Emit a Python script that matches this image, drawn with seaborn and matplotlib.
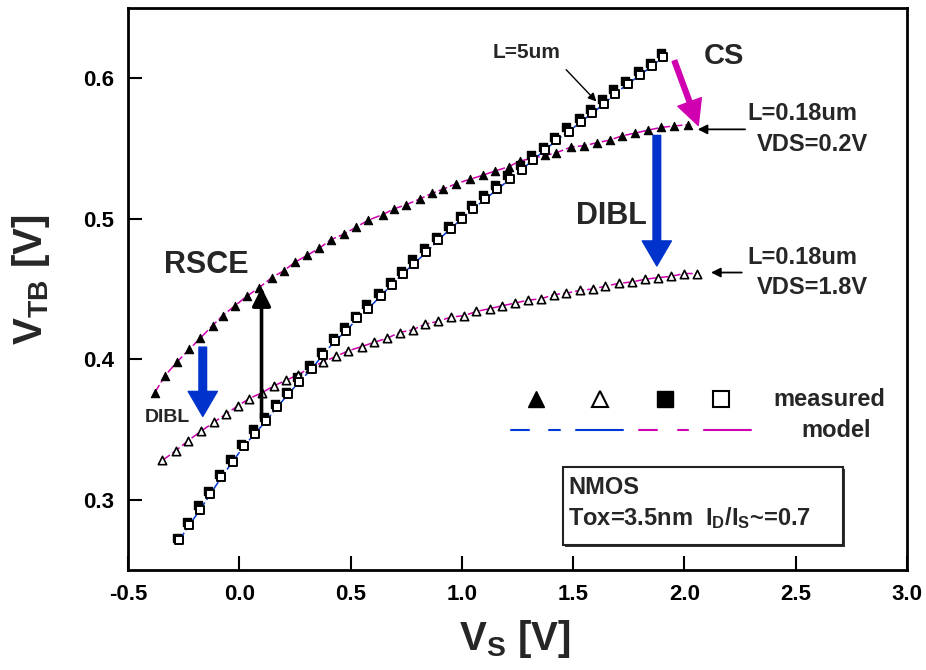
import matplotlib
matplotlib.use("Agg")
import matplotlib.pyplot as plt
import seaborn as sns
from matplotlib.patches import Rectangle

# -------------------------
# Data
# -------------------------
# L=5um, VDS=1.8V (open squares)
vs_sq_open = [-0.27, -0.225, -0.175, -0.13, -0.08, -0.03, 0.02, 0.07, 0.12, 0.17,
              0.22, 0.27, 0.325, 0.375, 0.43, 0.48, 0.53, 0.58, 0.635, 0.685,
              0.735, 0.785, 0.84, 0.895, 0.95, 1.0, 1.05, 1.105, 1.16, 1.215,
              1.27, 1.32, 1.375, 1.425, 1.48, 1.535, 1.585, 1.64, 1.69, 1.745,
              1.80, 1.855, 1.905]
vtb_sq_open = [0.271, 0.282, 0.293, 0.304, 0.316, 0.327, 0.338, 0.347, 0.356, 0.366,
               0.375, 0.384, 0.393, 0.403, 0.413, 0.420, 0.429, 0.436, 0.445, 0.453,
               0.461, 0.468, 0.476, 0.485, 0.493, 0.500, 0.507, 0.514, 0.521, 0.528,
               0.535, 0.542, 0.549, 0.556, 0.562, 0.569, 0.575, 0.582, 0.589, 0.596,
               0.602, 0.609, 0.615]

# L=5um, VDS=0.2V (filled squares)
vs_sq_fill = [-0.28, -0.235, -0.185, -0.14, -0.09, -0.04, 0.01, 0.06, 0.11, 0.16,
              0.21, 0.26, 0.315, 0.365, 0.42, 0.47, 0.52, 0.57, 0.625, 0.675,
              0.725, 0.775, 0.83, 0.885, 0.94, 0.99, 1.04, 1.095, 1.15, 1.205,
              1.26, 1.31, 1.365, 1.415, 1.47, 1.525, 1.575, 1.63, 1.68, 1.735,
              1.79, 1.845, 1.895]
vtb_sq_fill = [0.273, 0.284, 0.296, 0.306, 0.318, 0.329, 0.340, 0.350, 0.359, 0.368,
               0.377, 0.387, 0.396, 0.405, 0.415, 0.423, 0.431, 0.439, 0.447, 0.455,
               0.463, 0.471, 0.479, 0.487, 0.495, 0.502, 0.510, 0.517, 0.524, 0.531,
               0.538, 0.545, 0.551, 0.558, 0.565, 0.572, 0.578, 0.585, 0.592, 0.598,
               0.605, 0.611, 0.618]

# L=0.18um, VDS=1.8V (open triangles)
vs_tri_open = [-0.345, -0.285, -0.23, -0.17, -0.115, -0.06, -0.005, 0.045, 0.1, 0.155,
               0.21, 0.265, 0.32, 0.375, 0.435, 0.49, 0.55, 0.605, 0.665, 0.72,
               0.78, 0.835, 0.895, 0.95, 1.01, 1.065, 1.125, 1.18, 1.24, 1.295,
               1.355, 1.415, 1.47, 1.53, 1.59, 1.645, 1.705, 1.765, 1.825, 1.88,
               1.94, 2.0, 2.055]
vtb_tri_open = [0.328, 0.335, 0.342, 0.349, 0.355, 0.361, 0.367, 0.372, 0.376, 0.381,
                0.385, 0.389, 0.394, 0.398, 0.402, 0.406, 0.409, 0.412, 0.415, 0.419,
                0.421, 0.425, 0.427, 0.430, 0.431, 0.434, 0.436, 0.438, 0.440, 0.442,
                0.443, 0.446, 0.447, 0.449, 0.450, 0.452, 0.454, 0.455, 0.457, 0.458,
                0.459, 0.461, 0.461]

# L=0.18um, VDS=0.2V (filled triangles)
vs_tri_fill = [-0.38, -0.335, -0.28, -0.225, -0.175, -0.12, -0.075, -0.02, 0.035, 0.09,
               0.145, 0.2, 0.25, 0.305, 0.36, 0.41, 0.47, 0.525, 0.58, 0.645,
               0.695, 0.75, 0.81, 0.865, 0.915, 0.975, 1.035, 1.095, 1.15, 1.21,
               1.26, 1.315, 1.375, 1.425, 1.49, 1.55, 1.605, 1.665, 1.72, 1.78,
               1.835, 1.895, 1.955, 2.015]
vtb_tri_fill = [0.376, 0.388, 0.398, 0.407, 0.415, 0.424, 0.431, 0.438, 0.445, 0.451,
                0.458, 0.463, 0.469, 0.474, 0.479, 0.485, 0.489, 0.494, 0.499, 0.503,
                0.507, 0.510, 0.514, 0.518, 0.521, 0.525, 0.528, 0.531, 0.534, 0.537,
                0.541, 0.543, 0.545, 0.547, 0.551, 0.552, 0.554, 0.556, 0.559, 0.561,
                0.563, 0.565, 0.566, 0.567]

x_ticks = [-0.5, 0.0, 0.5, 1.0, 1.5, 2.0, 2.5, 3.0]
y_ticks = [0.3, 0.4, 0.5, 0.6]

BLUE = "#0038d8"
MAGENTA = "#d000b0"
ARROW_BLUE = "#0033cc"

# -------------------------
# Style
# -------------------------
sns.set_style("ticks")
plt.rcParams["font.family"] = ["Liberation Sans", "DejaVu Sans"]
plt.rcParams["font.weight"] = "bold"
plt.rcParams["mathtext.fontset"] = "custom"
plt.rcParams["mathtext.rm"] = "Liberation Sans:bold"
plt.rcParams["mathtext.it"] = "Liberation Sans:bold"
plt.rcParams["mathtext.bf"] = "Liberation Sans:bold"

fig = plt.figure(figsize=(9.26, 6.70), dpi=100)
ax = fig.add_axes([0.1382, 0.1493, 0.8413, 0.8388])

# model lines
dash = (0, (6, 2))
sns.lineplot(x=vs_sq_open, y=vtb_sq_open, ax=ax, color=BLUE, lw=1.1,
             linestyle=dash, sort=False, zorder=2)
sns.lineplot(x=vs_tri_fill, y=vtb_tri_fill, ax=ax, color=MAGENTA, lw=1.1,
             linestyle=dash, sort=False, zorder=2)
sns.lineplot(x=vs_tri_open, y=vtb_tri_open, ax=ax, color=MAGENTA, lw=1.1,
             linestyle=dash, sort=False, zorder=2)

# measured points
sns.scatterplot(x=vs_sq_fill, y=vtb_sq_fill, ax=ax, marker="s", s=38,
                color="black", edgecolor="black", linewidth=1.0, zorder=3)
sns.scatterplot(x=vs_sq_open, y=vtb_sq_open, ax=ax, marker="s", s=38,
                color="white", edgecolor="black", linewidth=1.4, zorder=4)
sns.scatterplot(x=vs_tri_fill, y=vtb_tri_fill, ax=ax, marker="^", s=36,
                color="black", edgecolor="black", linewidth=0.8, zorder=3)
sns.scatterplot(x=vs_tri_open, y=vtb_tri_open, ax=ax, marker="^", s=36,
                color="white", edgecolor="black", linewidth=1.2, zorder=3)

# -------------------------
# Axes
# -------------------------
ax.set_xlim(-0.5, 3.0)
ax.set_ylim(0.25, 0.65)
ax.set_xticks(x_ticks)
ax.set_xticklabels([f"{t:.1f}" for t in x_ticks])
ax.set_yticks(y_ticks)
ax.set_yticklabels([f"{t:.1f}" for t in y_ticks])
ax.tick_params(direction="in", length=10, width=1.5, labelsize=16, pad=10,
               colors="black")
for lab in ax.get_xticklabels() + ax.get_yticklabels():
    lab.set_fontweight("bold")
for sp in ax.spines.values():
    sp.set_visible(True)
    sp.set_linewidth(2)
    sp.set_color("black")

ax.set_xlabel(r"V$_{\mathrm{S}}$ [V]", fontsize=29, fontweight="bold")
ax.set_ylabel(r"V$_{\mathrm{TB}}$ [V]", fontsize=29, fontweight="bold")
ax.xaxis.set_label_coords(0.497, -0.085)
ax.yaxis.set_label_coords(-0.098, 0.516)

# -------------------------
# Annotations
# -------------------------
ax.text(1.29, 0.618, "L=5um", fontsize=15, fontweight="bold", ha="center", va="center")
ax.annotate("", xy=(1.613, 0.582), xytext=(1.46, 0.6075),
            arrowprops=dict(arrowstyle="-|>", color="black", lw=1.0, mutation_scale=12))

ax.text(2.177, 0.616, "CS", fontsize=21, fontweight="bold", ha="center", va="center")
ax.annotate("", xy=(2.062, 0.5664), xytext=(1.955, 0.6124),
            arrowprops=dict(width=3.5, headwidth=18, headlength=18, color=MAGENTA, shrink=0))

ax.text(2.285, 0.575, "L=0.18um", fontsize=17, fontweight="bold", ha="left", va="center")
ax.text(2.325, 0.5525, "VDS=0.2V", fontsize=17, fontweight="bold", ha="left", va="center")
ax.annotate("", xy=(2.047, 0.5636), xytext=(2.285, 0.5636),
            arrowprops=dict(arrowstyle="-|>", color="black", lw=1.3, mutation_scale=14))

ax.text(2.285, 0.4725, "L=0.18um", fontsize=17, fontweight="bold", ha="left", va="center")
ax.text(2.325, 0.451, "VDS=1.8V", fontsize=17, fontweight="bold", ha="left", va="center")
ax.annotate("", xy=(2.107, 0.4617), xytext=(2.27, 0.4617),
            arrowprops=dict(arrowstyle="-|>", color="black", lw=1.3, mutation_scale=14))

ax.text(1.67, 0.502, "DIBL", fontsize=22, fontweight="bold", ha="center", va="center")
ax.annotate("", xy=(1.876, 0.4664), xytext=(1.876, 0.5593),
            arrowprops=dict(width=5.5, headwidth=21, headlength=18, color=ARROW_BLUE, shrink=0))

ax.text(-0.15, 0.467, "RSCE", fontsize=22, fontweight="bold", ha="center", va="center")
ax.annotate("", xy=(0.1, 0.453), xytext=(0.1, 0.356),
            arrowprops=dict(arrowstyle="-|>", color="black", lw=2.6, mutation_scale=28))

ax.text(-0.323, 0.3582, "DIBL", fontsize=14, fontweight="bold", ha="center", va="center")
ax.annotate("", xy=(-0.164, 0.3593), xytext=(-0.164, 0.4086),
            arrowprops=dict(width=5.5, headwidth=21, headlength=18, color=ARROW_BLUE, shrink=0))

# text box with shadow
ax.add_patch(Rectangle((0.5606, 0.0409), 0.360, 0.139, transform=ax.transAxes,
                       facecolor="#333333", edgecolor="none", zorder=5))
ax.add_patch(Rectangle((0.558, 0.0445), 0.360, 0.139, transform=ax.transAxes,
                       facecolor="white", edgecolor="#222222", lw=1.5, zorder=6))
ax.text(0.565, 0.1468, "NMOS", transform=ax.transAxes, fontsize=17,
        fontweight="bold", ha="left", va="center", zorder=7)
ax.text(0.565, 0.0916, r"Tox=3.5nm  I$_\mathrm{D}$/I$_\mathrm{S}$~=0.7", transform=ax.transAxes,
        fontsize=17, fontweight="bold", ha="left", va="center", zorder=7)

# legend (drawn by hand like the original)
ax.plot([0.524], [0.304], marker="^", ms=12, color="black", transform=ax.transAxes, clip_on=False)
ax.plot([0.606], [0.304], marker="^", ms=12, mfc="white", mec="black", mew=1.5,
        transform=ax.transAxes, clip_on=False)
ax.plot([0.689], [0.304], marker="s", ms=11, color="black", transform=ax.transAxes, clip_on=False)
ax.plot([0.761], [0.304], marker="s", ms=11, mfc="white", mec="black", mew=1.5,
        transform=ax.transAxes, clip_on=False)
ax.text(0.828, 0.304, "measured", transform=ax.transAxes, fontsize=17,
        fontweight="bold", ha="left", va="center")
for x0, x1, c in [(0.492, 0.515, BLUE), (0.541, 0.554, BLUE), (0.575, 0.635, BLUE),
                  (0.656, 0.679, MAGENTA), (0.706, 0.719, MAGENTA), (0.739, 0.800, MAGENTA)]:
    ax.plot([x0, x1], [0.249, 0.249], color=c, lw=1.5, transform=ax.transAxes)
ax.text(0.909, 0.249, "model", transform=ax.transAxes, fontsize=17,
        fontweight="bold", ha="center", va="center")

fig.savefig("out.png", dpi=100)
